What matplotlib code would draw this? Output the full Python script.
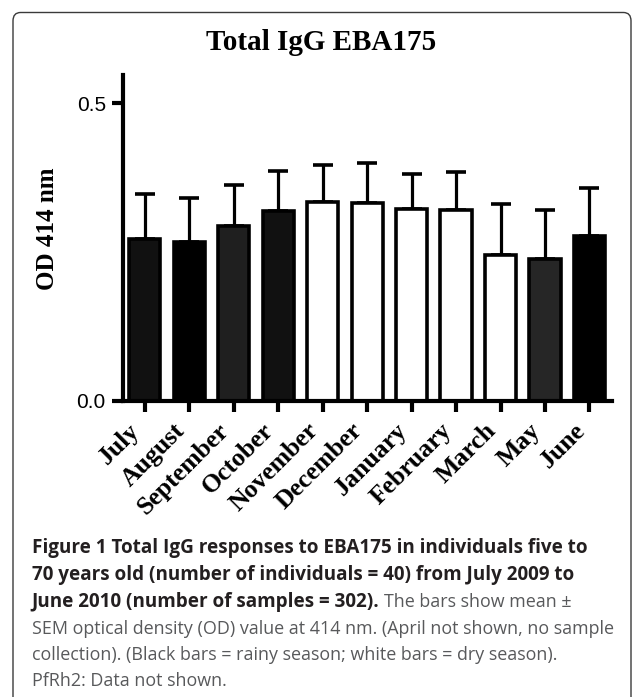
import matplotlib
matplotlib.use("Agg")
import matplotlib.pyplot as plt
import numpy as np
from matplotlib.patches import FancyBboxPatch

# ---- data ----
months = ["July", "August", "September", "October", "November", "December",
          "January", "February", "March", "May", "June"]
means = [0.271, 0.266, 0.294, 0.318, 0.334, 0.333, 0.322, 0.321, 0.245, 0.238, 0.277]
sems = [0.076, 0.074, 0.068, 0.068, 0.062, 0.066, 0.059, 0.064, 0.086, 0.083, 0.081]
bar_colors = ["#111111", "#000000", "#1f1f1f", "#111111", "#ffffff", "#ffffff",
              "#ffffff", "#ffffff", "#ffffff", "#262626", "#000000"]
ytick_vals = [0.0, 0.5]
ytick_labels = ["0.0", "0.5"]

W, H = 633, 697
fig = plt.figure(figsize=(W / 100, H / 100), dpi=100)
fig.patch.set_facecolor("white")


def fx(x):
    return x / W


def fy(y):
    return 1 - y / H


# frame
frame = FancyBboxPatch((fx(13), fy(720)), fx(631) - fx(13), fy(12.5) - fy(720),
                       boxstyle="round,pad=0,rounding_size=0.012",
                       transform=fig.transFigure, facecolor="none",
                       edgecolor="#3a3a3a", linewidth=1.0, zorder=0)
fig.patches.append(frame)

ax = fig.add_axes([fx(122.5), fy(401), fx(611.7) - fx(122.5), fy(75) - fy(401)])
x = np.arange(len(months))
ax.errorbar(x, means, yerr=[np.zeros(len(sems)), sems], fmt="none", ecolor="black",
            elinewidth=2.3, capsize=7, capthick=2.6, zorder=2)
ax.bar(x, means, width=0.7, color=bar_colors, edgecolor="black", linewidth=2.6, zorder=3)

ax.set_xlim(-0.5, 10.5)
ax.set_ylim(0, 0.547)
for s in ["top", "right"]:
    ax.spines[s].set_visible(False)
for s in ["left", "bottom"]:
    ax.spines[s].set_linewidth(3)
    ax.spines[s].set_zorder(5)

ax.set_yticks(ytick_vals)
ax.set_yticklabels(ytick_labels, fontfamily="Liberation Sans", fontsize=15)
ax.set_xticks(x)
ax.set_xticklabels(months, rotation=45, ha="right", rotation_mode="default",
                   fontfamily="Liberation Serif", fontweight="bold", fontsize=18.5)
ax.tick_params(axis="both", direction="out", length=8, width=3, color="black")
ax.tick_params(axis="y", pad=4)
ax.tick_params(axis="x", pad=5)

fig.text(fx(47.5), fy(229), "OD 414 nm", rotation=90, ha="center", va="center",
         fontfamily="Liberation Serif", fontweight="bold", fontsize=18)
fig.text(fx(321), fy(50), "Total IgG EBA175", ha="center", va="baseline",
         fontfamily="Liberation Serif", fontweight="bold", fontsize=21)

# caption
cap_font = "Open Sans"
bold_size = 13.6
reg_size = 12.9
bold_col = "#231f20"
reg_col = "#58595b"
left = fx(31.5)
base = [553, 580, 607, 633.5, 660, 686.5]
fig.text(left, fy(base[0]), "Figure 1 Total IgG responses to EBA175 in individuals five to",
         fontfamily=cap_font, fontweight="bold", fontsize=bold_size, color=bold_col, va="baseline")
fig.text(left, fy(base[1]), "70 years old (number of individuals = 40) from July 2009 to",
         fontfamily=cap_font, fontweight="bold", fontsize=bold_size, color=bold_col, va="baseline")
t3 = fig.text(left, fy(base[2]), "June 2010 (number of samples = 302).",
              fontfamily=cap_font, fontweight="bold", fontsize=bold_size, color=bold_col, va="baseline")
fig.canvas.draw()
bb = t3.get_window_extent(renderer=fig.canvas.get_renderer())
fig.text(bb.x1 / W + fx(5), fy(base[2]), "The bars show mean \u00b1",
         fontfamily=cap_font, fontsize=reg_size, color=reg_col, va="baseline")
fig.text(left, fy(base[3]), "SEM optical density (OD) value at 414 nm. (April not shown, no sample",
         fontfamily=cap_font, fontsize=reg_size, color=reg_col, va="baseline")
fig.text(left, fy(base[4]), "collection). (Black bars = rainy season; white bars = dry season).",
         fontfamily=cap_font, fontsize=reg_size, color=reg_col, va="baseline")
fig.text(left, fy(base[5]), "PfRh2: Data not shown.",
         fontfamily=cap_font, fontsize=reg_size, color=reg_col, va="baseline")

fig.savefig("out.png", dpi=100)
